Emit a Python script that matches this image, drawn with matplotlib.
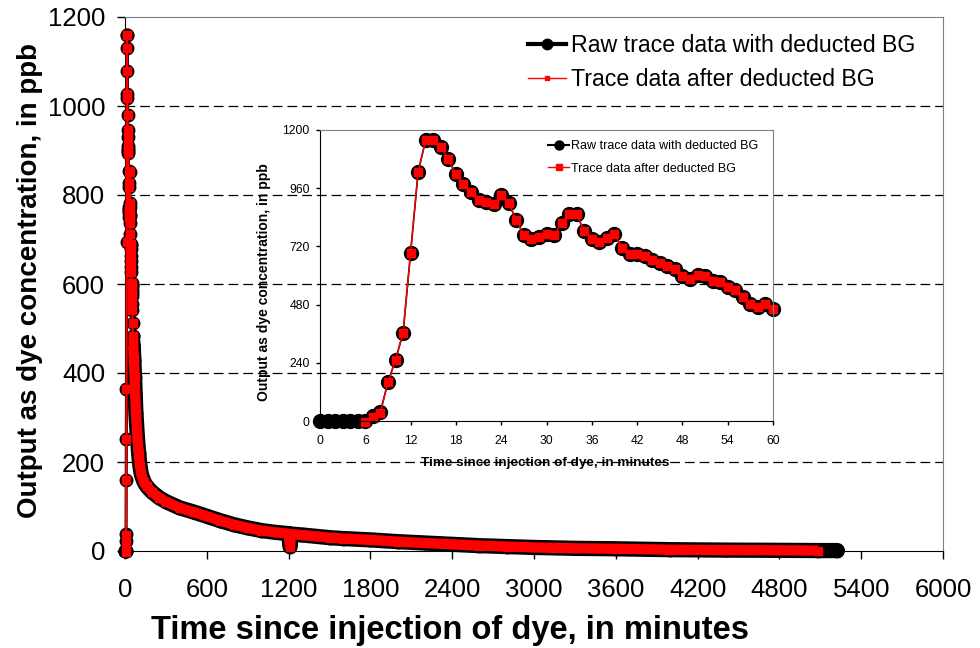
import numpy as np
import matplotlib
matplotlib.use("Agg")
import matplotlib.pyplot as plt
from matplotlib.lines import Line2D

plt.rcParams['font.family'] = ['Liberation Sans', 'DejaVu Sans']
plt.rcParams['lines.scale_dashes'] = False

# first hour, one reading per minute (shown in the inset)
minutes = list(range(61))
raw_first_hour = [0, 0, 0, 0, 0, 0, 0, 22, 38, 160, 252, 363, 694, 1028, 1159, 1159,
                  1131, 1079, 1017, 979, 945, 910, 903, 894, 930, 899, 828, 766, 750, 759,
                  772, 766, 817, 855, 852, 782, 752, 738, 756, 772, 713, 690, 687, 679,
                  662, 651, 639, 628, 596, 586, 602, 598, 579, 572, 554, 541, 513, 483,
                  472, 483, 462]
bg_first_hour = [np.nan, np.nan, np.nan, np.nan, np.nan, np.nan, -3, 15, 35, 160, 252, 363,
                 694, 1028, 1159, 1159, 1131, 1079, 1017, 979, 945, 910, 903, 894, 930,
                 899, 828, 766, 750, 759, 772, 766, 817, 855, 852, 782, 752, 738, 756,
                 772, 713, 690, 687, 679, 662, 651, 639, 628, 596, 586, 602, 598, 579,
                 572, 554, 541, 513, 483, 472, 483, 462]

# rest of the record
raw_tail_t = [65, 70, 75, 80, 90, 100, 110, 120, 140, 160, 200, 250, 300, 400, 500, 600,
              700, 800, 900, 1000, 1100, 1200, 1210, 1220, 1300, 1400, 1500, 1600, 1800,
              2000, 2200, 2400, 2600, 2800, 3000, 3300, 3600, 4000, 4400, 4800, 5085, 5225]
raw_tail = [430, 390, 350, 310, 260, 220, 190, 172, 155, 145, 132, 120, 111, 97, 88, 78,
            68, 59, 52, 46, 42, 39, 10, 38, 36, 33, 30, 28, 25, 21, 18, 15, 12, 10, 8, 6,
            5, 3, 2, 1.5, 1, 1]
bg_tail_t = raw_tail_t[:-1]
bg_tail = raw_tail[:-1]

main_xticks = list(range(0, 6001, 600))
main_yticks = list(range(0, 1201, 200))
inset_xticks = list(range(0, 61, 6))
inset_yticks = list(range(0, 1201, 240))

lbl_raw = 'Raw trace data with deducted BG'
lbl_bg = 'Trace data after deducted BG'

W, H = 980, 648
fig = plt.figure(figsize=(W / 100, H / 100), dpi=100)

def box(l, t, r, b):
    return [l / W, 1 - b / H, (r - l) / W, (b - t) / H]

ax = fig.add_axes(box(125, 17, 943, 551))
for v in main_yticks[1:-1]:
    ax.axhline(v, color='black', lw=0.9, ls=(0, (7, 3.6)), zorder=1)

all_t = minutes + raw_tail_t
all_raw = raw_first_hour + raw_tail
all_bg_t = minutes + bg_tail_t
all_bg = bg_first_hour + bg_tail

# thick bands where the readings sit shoulder to shoulder
ax.plot([60] + raw_tail_t, [raw_first_hour[-1]] + raw_tail, color='black', lw=11,
        solid_capstyle='round', solid_joinstyle='round', clip_on=False, zorder=3)
ax.plot(all_t, all_raw, color='black', lw=2.2, marker='o', ms=9, clip_on=False, zorder=3)
ax.plot([60] + bg_tail_t, [bg_first_hour[-1]] + bg_tail, color='red', lw=7.4,
        solid_capstyle='butt', solid_joinstyle='round', clip_on=False, zorder=4)
ax.plot(all_bg_t, all_bg, color='red', lw=1.5, marker='s', ms=6, mec='red',
        clip_on=False, zorder=4)

ax.set_xlim(0, 6000)
ax.set_ylim(0, 1200)
ax.set_xticks(main_xticks)
ax.set_yticks(main_yticks)
ax.tick_params(direction='out', length=5.8, width=1, labelsize=18.5, colors='black')
ax.tick_params(axis='x', pad=13.5)
ax.tick_params(axis='y', pad=8.5)
for s in ['top', 'right']:
    ax.spines[s].set_color('#808080')
for s in ['left', 'bottom']:
    ax.spines[s].set_color('black')

h1 = Line2D([], [], color='black', lw=3, marker='o', ms=7.5)
h2 = Line2D([], [], color='red', lw=1, marker='s', ms=3.5)
fig.legend([h1, h2], [lbl_raw, lbl_bg], loc='center left',
           bbox_to_anchor=(528 / W, 1 - 62.5 / H), frameon=False, fontsize=16.7,
           handlelength=1.64, handletextpad=0.2, labelspacing=0.48, borderpad=0,
           borderaxespad=0)

fig.text(30 / W, 1 - 280 / H, 'Output as dye concentration, in ppb', rotation=90,
         fontsize=20, fontweight='bold', ha='center', va='center')
fig.text(450 / W, 1 - 631 / H, 'Time since injection of dye, in minutes',
         fontsize=23.5, fontweight='bold', ha='center', va='center')

# inset: first hour
ins = fig.add_axes(box(320, 130, 773, 421))
ins.set_facecolor('none')
ins.plot(minutes, raw_first_hour, color='black', lw=1.2, marker='o', ms=10, clip_on=False)
ins.plot(minutes, bg_first_hour, color='red', lw=1, marker='s', ms=6.2, mec='red',
         clip_on=False)
ins.set_xlim(0, 60)
ins.set_ylim(0, 1200)
ins.set_xticks(inset_xticks)
ins.set_yticks(inset_yticks)
ins.tick_params(direction='out', length=3, width=1, labelsize=8.7)
ins.tick_params(axis='x', pad=7)
ins.tick_params(axis='y', pad=4.5)
for s in ['top', 'right']:
    ins.spines[s].set_color('#808080')

ih1 = Line2D([], [], color='black', lw=1.5, marker='o', ms=6.5)
ih2 = Line2D([], [], color='red', lw=1, marker='s', ms=4.5)
fig.legend([ih1, ih2], [lbl_raw, lbl_bg], loc='center left',
           bbox_to_anchor=(548 / W, 1 - 157.5 / H), frameon=False, fontsize=9,
           handlelength=1.7, handletextpad=0.16, labelspacing=0.85, borderpad=0,
           borderaxespad=0)

fig.text(264 / W, 1 - 282 / H, 'Output as dye concentration, in ppb', rotation=90,
         fontsize=10, fontweight='bold', ha='center', va='center')
fig.text(545 / W, 1 - 463 / H, 'Time since injection of dye, in minutes',
         fontsize=9.7, fontweight='bold', ha='center', va='center')

fig.savefig('out.png', dpi=100)
